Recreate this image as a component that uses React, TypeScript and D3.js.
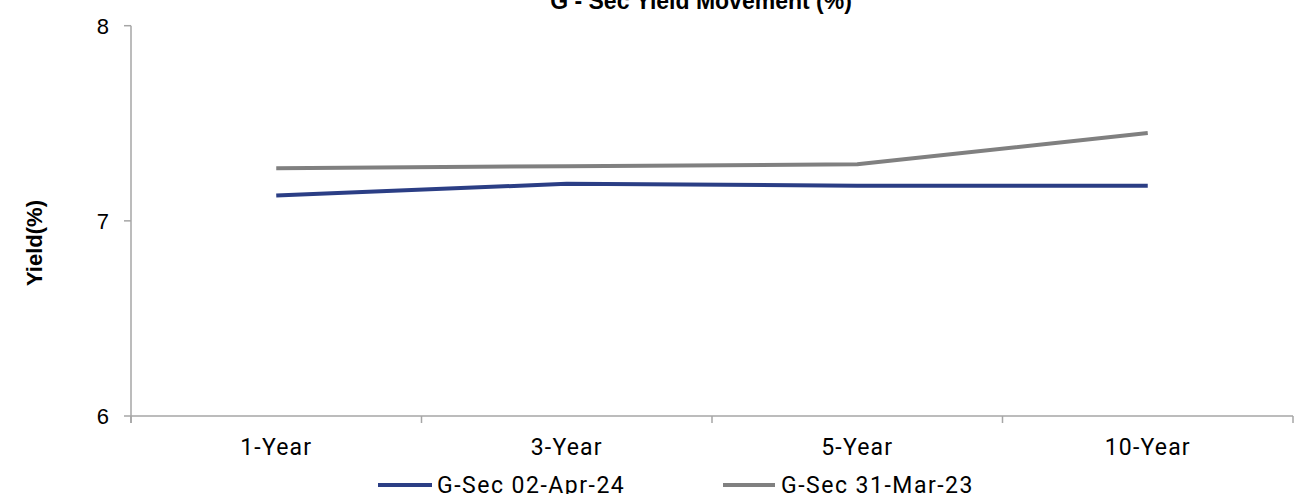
import React from "react";
import * as d3 from "d3";

// Tenors on the x axis
const tenors = ["1-Year", "3-Year", "5-Year", "10-Year"];
// Yield curve on 02-Apr-24 (%)
const yieldsApr24 = [7.13, 7.19, 7.18, 7.18];
// Yield curve on 31-Mar-23 (%)
const yieldsMar23 = [7.27, 7.28, 7.29, 7.45];
// Y axis ticks
const yTicks = [6, 7, 8];

const seriesNames = ["G-Sec 02-Apr-24", "G-Sec 31-Mar-23"];
const seriesColors = ["#2B3E85", "#808080"];

const W = 1301;
const H = 494;
const axisColor = "#A6A6A6";
const latin = "Roboto, 'Liberation Sans', Arial, sans-serif";
const arial = "'Liberation Sans', Arial, sans-serif";

export default function App() {
  const x = d3.scaleBand<string>().domain(tenors).range([131, 1293]).padding(0);
  const y = d3.scaleLinear().domain([6, 8]).range([416, 25.7]);
  const cx = (t: string) => (x(t) ?? 0) + x.bandwidth() / 2;

  const line = d3
    .line<number>()
    .x((_, i) => cx(tenors[i]))
    .y((v) => y(v));

  const series = [yieldsApr24, yieldsMar23];
  const boundaries = [...tenors.map((t) => x(t) ?? 0), x.range()[1]];

  const legendItems = [
    { x0: 378, x1: 432, tx: 437 },
    { x0: 723, x1: 775, tx: 781 },
  ];

  return (
    <svg
      width={W}
      height={H}
      style={{ position: "absolute", left: 0, top: 0, background: "#fff" }}
    >
      {/* title */}
      <text
        x={701}
        y={9}
        textAnchor="middle"
        fontFamily={arial}
        fontWeight="bold"
        fontSize={23}
        fill="#000"
      >
        G - Sec Yield Movement (%)
      </text>

      {/* y axis title */}
      <text
        transform={`translate(42,243) rotate(-90)`}
        textAnchor="middle"
        fontFamily={arial}
        fontWeight="bold"
        fontSize={22}
        fill="#000"
      >
        Yield(%)
      </text>

      {/* y axis */}
      <line x1={131} x2={131} y1={y(8)} y2={y(6) + 7} stroke={axisColor} strokeWidth={1.5} />
      {yTicks.map((t) => (
        <g key={t}>
          <line x1={124} x2={131} y1={y(t)} y2={y(t)} stroke={axisColor} strokeWidth={1.5} />
          <text
            x={109}
            y={y(t) + 7.9}
            textAnchor="end"
            fontFamily={arial}
            fontSize={22}
            fill="#000"
          >
            {t}
          </text>
        </g>
      ))}

      {/* x axis */}
      <line x1={131} x2={x.range()[1]} y1={y(6)} y2={y(6)} stroke={axisColor} strokeWidth={1.5} />
      {boundaries.map((b, i) => (
        <line key={i} x1={b} x2={b} y1={y(6)} y2={y(6) + 7} stroke={axisColor} strokeWidth={1.5} />
      ))}
      {tenors.map((t) => (
        <text
          key={t}
          x={cx(t)}
          y={455}
          textAnchor="middle"
          fontFamily={latin}
          fontSize={23}
          letterSpacing={1.2}
          fill="#000"
        >
          {t}
        </text>
      ))}

      {/* series lines */}
      {series.map((s, i) => (
        <path
          key={i}
          d={line(s) ?? ""}
          fill="none"
          stroke={seriesColors[i]}
          strokeWidth={4}
          strokeLinejoin="round"
        />
      ))}

      {/* legend */}
      {legendItems.map((it, i) => (
        <g key={i}>
          <line x1={it.x0} x2={it.x1} y1={485} y2={485} stroke={seriesColors[i]} strokeWidth={4} />
          <text
            x={it.tx}
            y={493}
            fontFamily={latin}
            fontSize={23}
            letterSpacing={1.5}
            fill="#000"
          >
            {seriesNames[i]}
          </text>
        </g>
      ))}
    </svg>
  );
}
